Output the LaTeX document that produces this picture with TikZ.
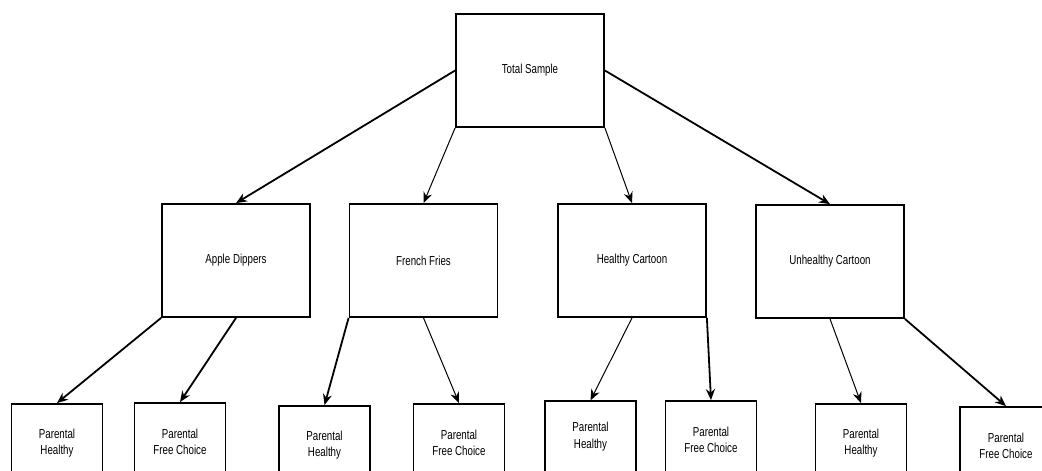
\documentclass[tikz,border=0pt]{standalone}
\usepackage{fontspec}
\setmainfont{Liberation Sans}[FakeStretch=0.75]
\usetikzlibrary{arrows.meta}
\begin{document}
\begin{tikzpicture}[x=1pt,y=-1pt,
  box/.style={draw=black,line width=1.8pt,fill=white,inner sep=0pt,align=center,font=\fontsize{13}{16.5}\selectfont},
  mid/.style={box,minimum width=148pt,minimum height=113pt},
  leaf/.style={box,minimum width=91pt,minimum height=78pt},
  thickarrow/.style={draw=black,line width=1.8pt,-{Stealth[length=11pt,width=9pt]}},
  thinarrow/.style={draw=black,line width=1pt,-{Stealth[length=11pt,width=9pt]}}]
\useasboundingbox (0,0) rectangle (1042,471);
\clip (0,0) rectangle (1042,471);
\fill[white] (0,0) rectangle (1042,471);
\node[mid] (top) at (530,70.5) {Total Sample};
\node[mid] (apple) at (236,260.5) {Apple Dippers};
\node[mid] (fries) at (423.5,260.5) {French Fries};
\node[mid] (hc) at (632,260.5) {Healthy Cartoon};
\node[mid] (uc) at (830,261.5) {Unhealthy Cartoon};
\node[leaf] (b1) at (57,443) {Parental\\Healthy};
\node[leaf] (b2) at (180,442) {Parental\\Free Choice};
\node[leaf] (b3) at (324.5,445) {Parental\\Healthy};
\node[leaf] (b4) at (459,443) {Parental\\Free Choice};
\node[leaf,minimum height=70.5pt] (b5) at (590.5,436.5) {Parental\\Healthy};
\node[leaf] (b6) at (711,440) {Parental\\Free Choice};
\node[leaf] (b7) at (861,443) {Parental\\Healthy};
\node[leaf,minimum width=92pt] (b8) at (1006,446) {Parental\\Free Choice};
\draw[thickarrow] (top.west) -- (apple.north);
\draw[thinarrow] (top.south west) -- (fries.north);
\draw[thinarrow] (top.south east) -- (hc.north);
\draw[thickarrow] (top.east) -- (uc.north);
\draw[thickarrow] (apple.south west) -- (b1.north);
\draw[thickarrow] (apple.south) -- (b2.north);
\draw[thickarrow] (fries.south west) -- (b3.north);
\draw[thinarrow] (fries.south) -- (b4.north);
\draw[thinarrow] (hc.south) -- (b5.north);
\draw[thickarrow] (hc.south east) -- (b6.north);
\draw[thinarrow] (uc.south) -- (b7.north);
\draw[thickarrow] (uc.south east) -- (b8.north);
\end{tikzpicture}
\end{document}
